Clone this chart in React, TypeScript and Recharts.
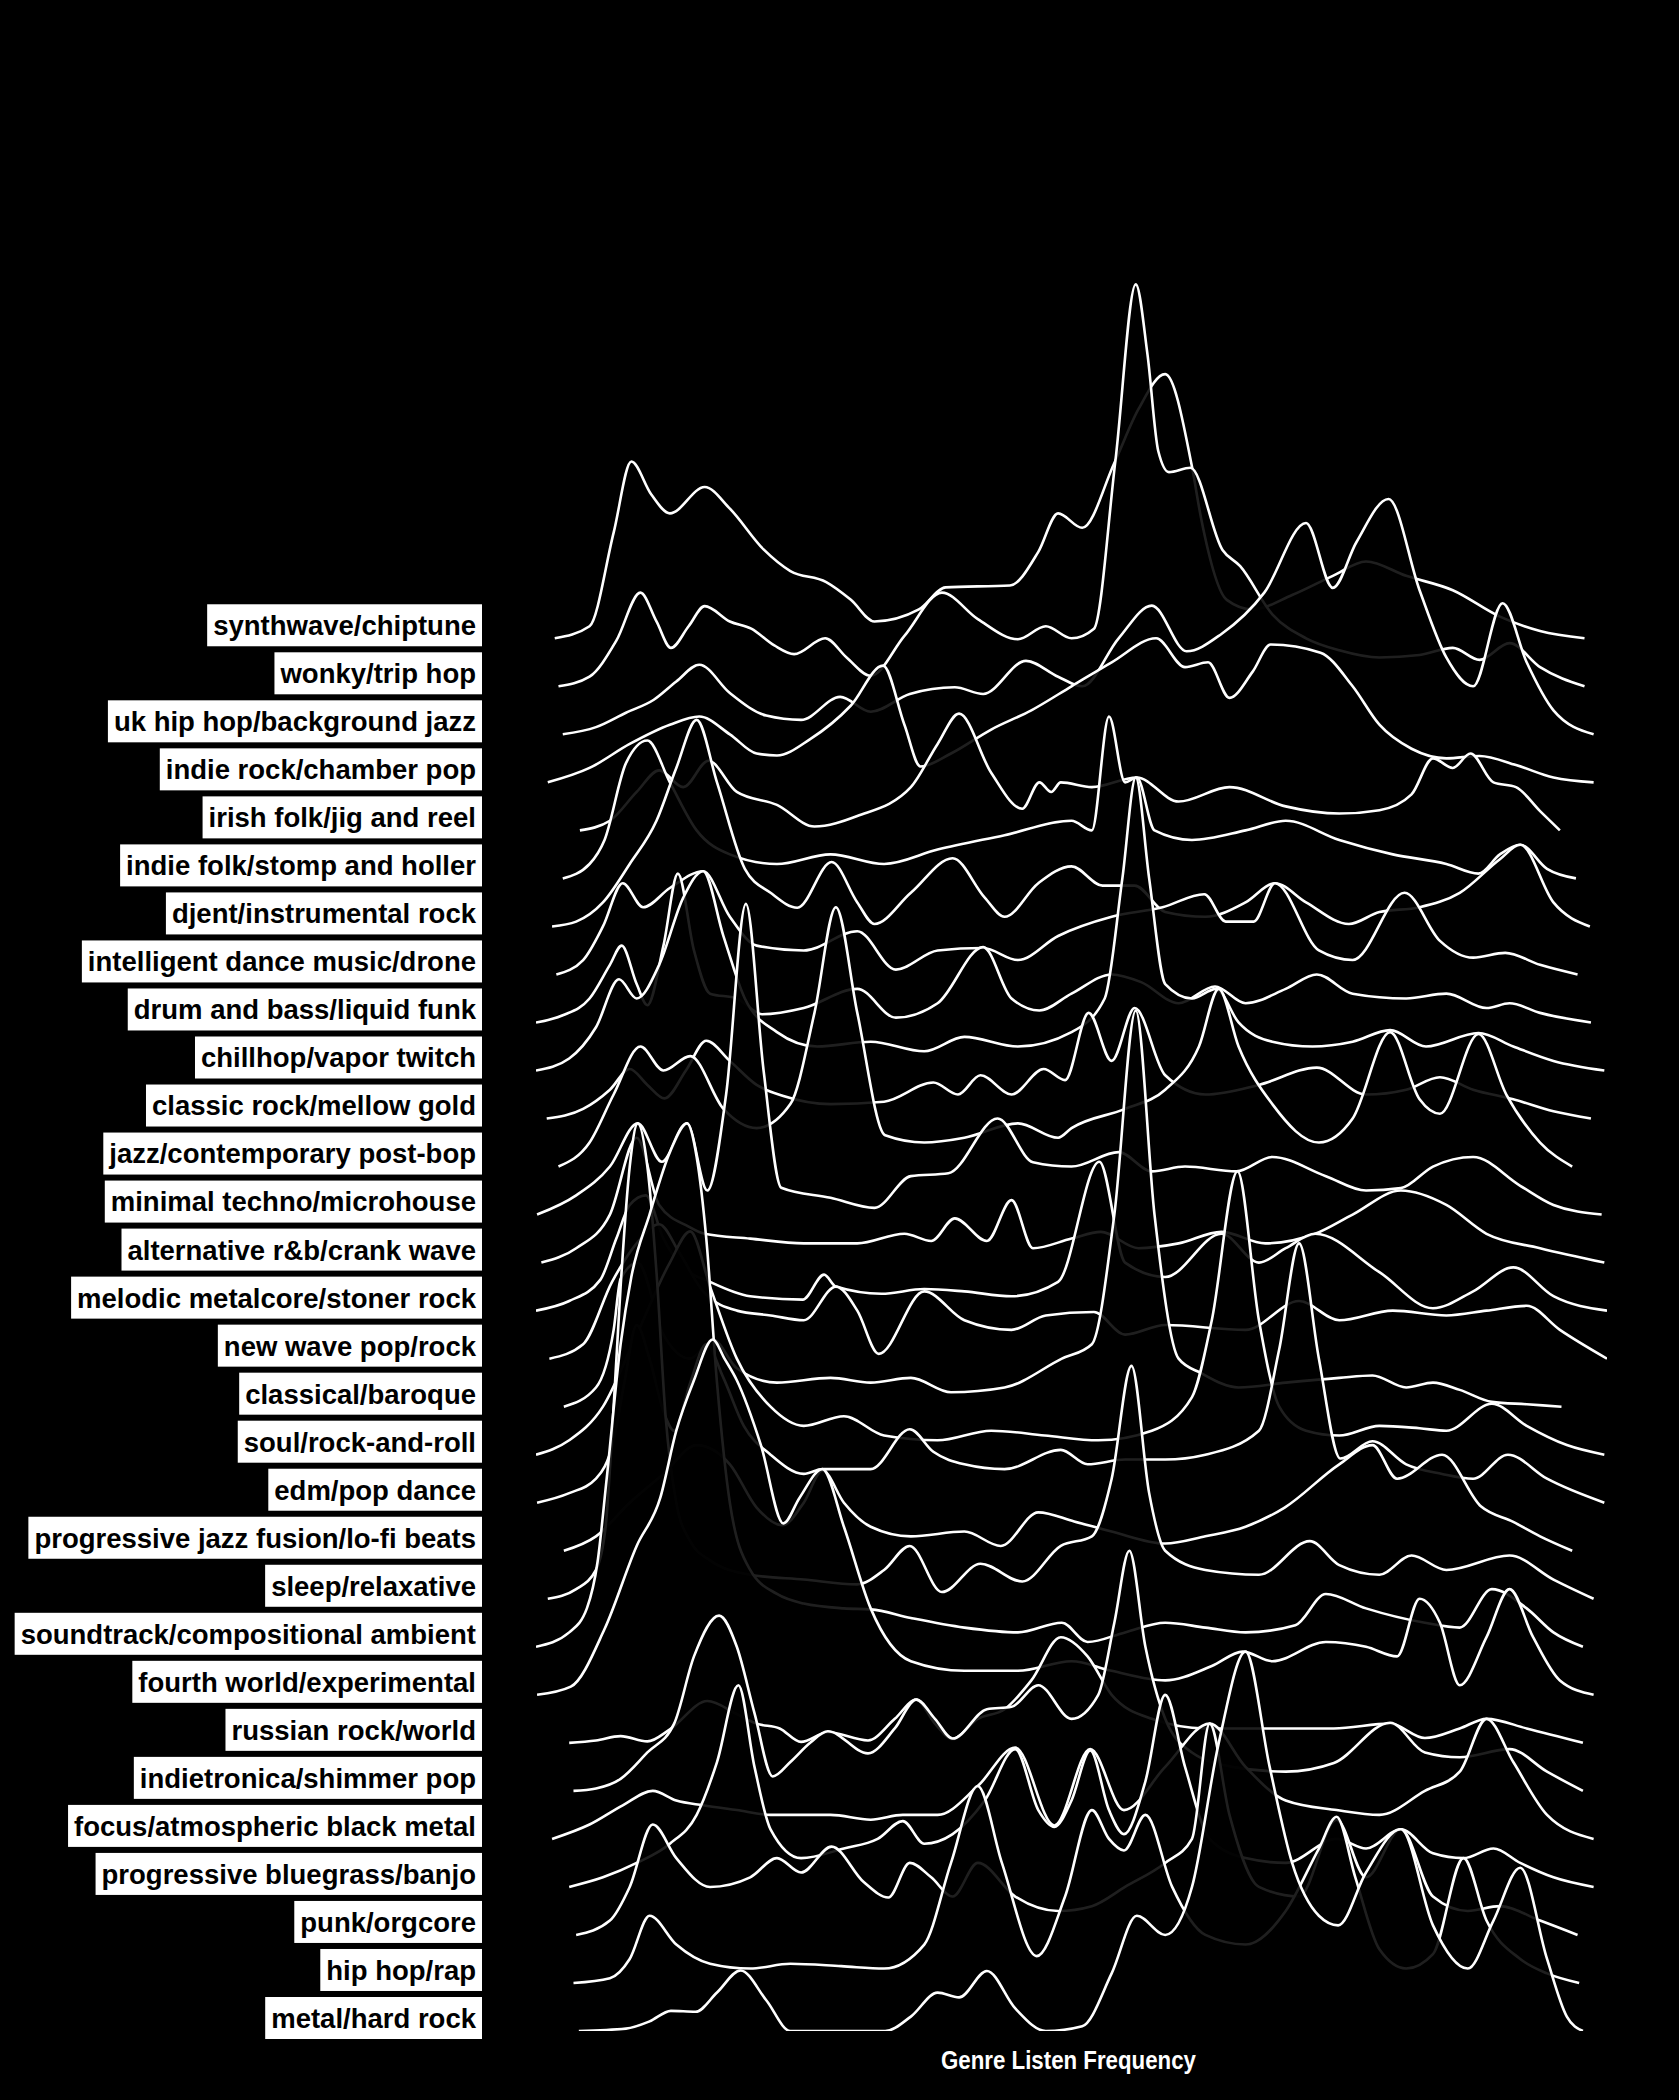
import { ComposedChart, Area, XAxis, YAxis } from "recharts";

const GENRES = [
	"synthwave/chiptune",
	"wonky/trip hop",
	"uk hip hop/background jazz",
	"indie rock/chamber pop",
	"irish folk/jig and reel",
	"indie folk/stomp and holler",
	"djent/instrumental rock",
	"intelligent dance music/drone",
	"drum and bass/liquid funk",
	"chillhop/vapor twitch",
	"classic rock/mellow gold",
	"jazz/contemporary post-bop",
	"minimal techno/microhouse",
	"alternative r&b/crank wave",
	"melodic metalcore/stoner rock",
	"new wave pop/rock",
	"classical/baroque",
	"soul/rock-and-roll",
	"edm/pop dance",
	"progressive jazz fusion/lo-fi beats",
	"sleep/relaxative",
	"soundtrack/compositional ambient",
	"fourth world/experimental",
	"russian rock/world",
	"indietronica/shimmer pop",
	"focus/atmospheric black metal",
	"progressive bluegrass/banjo",
	"punk/orgcore",
	"hip hop/rap",
	"metal/hard rock",
];

const AXIS_TITLE = "Genre Listen Frequency";

// [listen frequency, density] pairs, one list per genre
const synthwave = [[1.75,0],[5,0.25],[7.25,2.2],[8.9,3.68],[10.75,3.0],[12.5,2.6],[15.75,3.15],[18.1,2.7],[21.25,1.85],[23.75,1.4],[27.1,1.17],[29.4,0.8],[31.6,0.35],[35.75,0.6],[38.25,1.06],[44.25,1.1],[46.9,1.8],[48.75,2.6],[51,2.3],[54,3.65],[56.25,4.77],[58.75,5.5],[61.25,3.57],[62.1,2.5],[64.5,0.8],[66.9,0.6],[70.6,0.9],[74.4,1.3],[77.5,1.6],[81.25,1.3],[85.6,1.0],[90,0.45],[93.75,0.15],[97.9,0]];
const wonky = [[2.1,0],[5,0.2],[7.5,0.95],[9.75,1.95],[11.25,1.35],[12.6,0.8],[14.25,1.25],[15.75,1.67],[18.1,1.35],[20.1,1.2],[22.25,0.85],[24.1,0.67],[27,1.0],[29,0.6],[31.25,0.22],[34.4,1.05],[37.9,1.95],[41.25,1.4],[45,0.98],[47.6,1.25],[50,1.0],[52.1,1.2],[54.1,4.7],[56,8.37],[57.1,6.9],[58.1,4.9],[59.1,4.46],[61.1,4.55],[64.1,2.84],[65.75,2.5],[68.75,1.5],[71.9,1.0],[75,0.75],[78.75,0.6],[82.5,0.65],[85.6,0.8],[88.1,0.55],[90.9,0.9],[93.75,0.4],[97.9,0]];
const ukHipHop = [[2.5,0],[5.6,0.15],[8.4,0.45],[11,0.72],[13.1,1.1],[15.25,1.45],[18.1,0.86],[21.5,0.39],[24.75,0.3],[28.4,0.78],[31.25,0.47],[34.9,0.84],[39.1,0.98],[41.75,0.84],[45.75,1.53],[48.75,1.2],[51,1.0],[54.4,2.0],[57.5,2.68],[60.75,1.73],[64,2.09],[68,2.95],[71.9,4.4],[74.4,3.05],[76.6,4.0],[79.6,4.9],[82.5,3.0],[85,1.6],[87.5,1.0],[90.25,2.73],[92.5,1.5],[95,0.5],[98.75,0]];
const indieRock = [[1.1,0],[5,0.3],[8.75,0.8],[12.5,1.2],[15.25,1.37],[18.1,1.0],[20.6,0.6],[22.5,0.56],[25.6,0.9],[29.4,1.6],[32.4,2.43],[34.4,1.2],[35.9,0.33],[38.75,0.6],[42.5,1.1],[46.25,1.5],[50,2.0],[53.75,2.5],[57.9,3.0],[60.6,2.4],[62.75,2.5],[64.75,1.76],[66.9,2.3],[68.6,2.87],[73.25,2.7],[76.25,2.0],[78.75,1.2],[81.75,0.7],[85,0.5],[88.1,0.55],[91.5,0.36],[95,0.1],[98.75,0]];
const irishFolk = [[4.1,0],[6.9,0.2],[9.4,0.8],[11.5,1.25],[13.75,0.9],[16.1,1.45],[18.75,0.8],[22.5,0.53],[26,0.08],[30,0.3],[35,0.9],[37.5,1.8],[39.5,2.43],[42.5,1.2],[45.4,0.45],[47,1.0],[48.1,0.8],[49,1.0],[51.9,0.9],[56.1,1.1],[60,0.6],[64.75,0.9],[70,0.5],[75,0.35],[78.75,0.42],[81.75,0.75],[83.75,1.5],[85.6,1.3],[87.25,1.6],[89.4,1.0],[91.5,0.9],[93.75,0.4],[95.6,0]];
const indieFolk = [[2.5,0],[5,0.3],[6.4,0.8],[8.4,2.4],[10.4,2.87],[12.5,2.0],[15,1.0],[18.1,0.5],[22.5,0.3],[27.5,0.5],[32.5,0.3],[37.5,0.6],[43.75,0.9],[50,1.2],[51.9,1.0],[53.5,3.37],[55,2.0],[56.1,2.1],[57.75,1.0],[61.25,0.8],[66.25,1.0],[70,1.2],[75,0.8],[80,0.5],[85,0.3],[88,0.1],[90,0.5],[91.9,0.7],[94.4,0.2],[97.1,0]];
const djent = [[1.5,0],[3.75,0.1],[6.25,0.5],[8.75,1.3],[11.25,2.2],[13.1,3.3],[15,4.3],[16.9,3.0],[19.5,1.2],[21.9,0.7],[24.4,0.39],[27.6,1.34],[30,0.5],[31.6,0.05],[35,0.7],[38.9,1.42],[41.9,0.6],[43.75,0.2],[46.9,0.9],[50,1.25],[52.9,0.85],[55.9,0.85],[58.75,0.3],[62.5,0.2],[66.25,0.5],[69,0.9],[71.9,0.5],[75.9,0.05],[78.75,0.3],[82.5,0.4],[86.25,0.7],[90,1.4],[91.9,1.7],[95,0.5],[98.4,0]];
const idm = [[1.9,0],[4.4,0.3],[6.25,1.0],[8.1,1.9],[10,1.4],[12.5,1.8],[15.6,2.15],[18.1,1.2],[20.6,0.6],[25,0.5],[30,0.9],[33.6,0.1],[37.5,0.5],[41.75,0.55],[45,0.3],[48.75,0.8],[53.75,1.2],[58.5,1.4],[62.4,1.67],[64.4,1.1],[67,1.1],[69,1.9],[73.1,0.5],[76.25,0.3],[81.1,1.7],[84.4,0.7],[87.5,0.35],[90.5,0.45],[93.75,0.2],[97.25,0]];
const drumBass = [[0,0],[2.5,0.15],[5,0.5],[6.9,1.2],[8,1.6],[9.4,0.8],[10.4,0.36],[11.9,1.6],[13.25,3.1],[14.75,1.5],[16.25,0.6],[18.75,0.5],[21.1,0.17],[25,0.3],[30,0.7],[33.6,0.1],[37.5,0.4],[41.75,1.57],[44.4,0.5],[47,0.25],[50,0.6],[53.75,1.0],[56.5,0.84],[60,0.4],[63.4,0.75],[66.25,0.4],[70,0.7],[72.9,1.0],[76.25,0.6],[81.25,0.5],[85,0.6],[88.75,0.3],[90.9,0.4],[93.75,0.2],[98.5,0]];
const chillhop = [[0,0],[3.1,0.25],[5.6,0.9],[7.75,1.9],[9.4,1.5],[11.5,2.2],[13.75,3.6],[15.6,4.15],[17.5,2.8],[19.5,1.5],[22.5,0.8],[26.25,0.5],[31.25,0.6],[36.25,0.4],[40,0.7],[45,0.5],[50,0.8],[53.1,1.5],[54.75,4.0],[56,6.1],[57.25,4.0],[58.75,1.8],[61.25,1.5],[63.5,1.7],[65.6,1.0],[68.75,0.6],[72.5,0.5],[76.25,0.6],[79.75,0.84],[83.1,0.5],[88,0.78],[91.25,0.5],[95,0.2],[99.75,0]];
const classicRock = [[1,0],[4.4,0.2],[6.9,0.6],[8.75,1.03],[10.4,0.7],[12,0.42],[14,1.0],[15.9,1.62],[18.1,1.2],[20.6,0.7],[23.1,0.47],[27.5,0.3],[32.5,0.35],[37.1,0.75],[39.4,0.5],[41.5,0.9],[44.4,0.5],[47.4,1.03],[49.4,0.8],[51.6,2.2],[53.75,1.2],[55.9,2.3],[58.75,0.9],[62.5,0.5],[67.5,0.7],[72.9,1.06],[77.5,0.5],[81.25,0.6],[84.4,0.86],[87.5,0.6],[91.25,0.4],[95,0.15],[98.5,0]];
const jazz = [[2.1,0],[5,0.5],[7.25,1.5],[9.75,2.5],[11.9,2.0],[14.4,2.3],[17.5,1.2],[20.6,0.8],[23.75,1.3],[26,3.2],[28,5.4],[30,3.2],[32.6,0.65],[36.25,0.5],[40,0.6],[45,0.9],[48.75,0.6],[50,0.8],[55,1.2],[58.75,1.6],[61.9,2.5],[63.75,3.7],[65.6,2.5],[68.75,1.3],[73.1,0.5],[76.25,1.0],[79.75,2.8],[82.5,1.4],[84.4,1.1],[88,2.76],[90.6,1.5],[93.75,0.5],[96.75,0]];
const minimalTechno = [[0.1,0],[3.75,0.4],[6.9,1.0],[9.5,1.9],[11.75,1.1],[14.1,1.9],[16,0.5],[17.75,2.5],[19.6,6.47],[21.25,3.0],[22.9,0.56],[27.5,0.35],[31.6,0.14],[35,0.8],[38.5,0.86],[43.1,2.0],[46.4,1.09],[50,1.0],[54.4,1.3],[57.5,0.9],[60.6,1.0],[65.4,0.9],[68.75,1.2],[73.75,0.8],[77.5,0.5],[80.75,0.55],[83.75,1.0],[87.5,1.2],[91.9,0.6],[95,0.2],[99.5,0]];
const altRnb = [[0.5,0],[3.75,0.3],[6.9,1.0],[9.4,2.6],[11.5,1.2],[14.25,0.75],[15.75,0.6],[20,0.5],[25,0.4],[30,0.4],[34.4,0.6],[36.9,0.45],[39.1,0.92],[42.1,0.45],[44.4,1.3],[46.4,0.3],[50,0.5],[52.75,0.64],[56.25,0.3],[60,0.4],[64,0.64],[68.1,0.4],[72.75,0.6],[76.25,1.0],[80.75,1.5],[85,1.2],[88.75,0.6],[93.75,0.3],[99.75,0]];
const metalcore = [[0,0],[3.1,0.2],[6,0.64],[7.5,1.5],[8.75,2.2],[10.25,2.4],[11.9,1.5],[13.75,0.9],[16.25,0.6],[20,0.3],[24.9,0.23],[26.9,0.75],[28,0.5],[32.25,0.35],[36.25,0.45],[40,0.4],[44.4,0.3],[48.75,0.6],[52.6,3.1],[55,1.0],[58.75,0.7],[64,1.6],[67.5,1.0],[70,1.3],[72.75,1.6],[78.75,0.8],[83.75,0.05],[87.5,0.4],[91.25,0.9],[95,0.3],[100,0]];
const newWave = [[1.25,0],[4.4,0.3],[7.1,1.6],[9.4,2.4],[11.5,2.8],[13.4,2.2],[15.6,1.4],[18.75,1.0],[21.9,0.9],[25,0.8],[28,1.5],[30,1.0],[32,0.1],[36.25,1.4],[40,0.8],[44.4,0.6],[47.6,0.9],[52.1,0.97],[55,0.5],[58.75,0.7],[66.25,0.6],[71.25,1.2],[75,0.8],[80,1.0],[85,0.9],[88.75,1.0],[92.5,1.1],[95.6,0.6],[100,0]];
const classical = [[2.6,0],[5.6,0.4],[7.25,1.6],[7.9,2.66],[9.5,3.0],[11.9,1.5],[14.4,1.0],[16.5,1.4],[18.75,0.8],[22.5,0.5],[27.5,0.6],[31.25,0.5],[35,0.6],[38.75,0.3],[43.75,0.4],[49.1,1.0],[51.9,1.3],[54,4.0],[56,8.25],[57.75,4.0],[60,1.0],[62.1,0.7],[65.6,0.4],[70,0.5],[75,0.6],[78.1,0.65],[81.25,0.4],[83.75,0.5],[86.25,0.35],[89.25,0.1],[92.5,0.05],[95.75,0]];
const soul = [[0,0],[3.1,0.3],[6.25,1.0],[9.4,2.5],[12.5,4.0],[14.4,4.65],[16.25,3.5],[18.75,2.0],[21.9,1.0],[25,0.6],[28.75,0.8],[32.5,0.4],[37.5,0.3],[42.5,0.5],[47.5,0.4],[52.5,0.3],[57.5,0.5],[61.25,1.2],[63.1,2.8],[65.5,5.9],[67.5,2.8],[69.4,1.0],[71.9,0.5],[75,0.4],[78.75,0.6],[82.5,0.55],[85,0.5],[89.25,1.06],[92.5,0.6],[96.25,0.2],[99.75,0]];
const edm = [[0.1,0],[3.1,0.2],[5.6,0.5],[7.25,1.3],[8.25,2.5],[9.4,3.7],[10.6,3.0],[11.9,1.9],[12.9,1.5],[14.4,2.5],[15.9,3.3],[17.5,2.6],[19.4,1.6],[21.9,1.0],[25,0.6],[26.75,0.7],[31.25,0.7],[34.9,1.53],[37.1,1.06],[40,0.8],[43.75,0.7],[49,1.1],[51.5,0.8],[55,0.9],[58.75,0.9],[62.5,1.0],[67.5,1.5],[69.4,3.2],[71.25,5.4],[73.1,3.0],[75.1,0.92],[78.1,1.28],[81.25,0.8],[84.6,0.6],[87.5,0.5],[90.75,1.0],[94.4,0.5],[99.75,0]];
const progJazz = [[2.6,0],[5.6,0.3],[8.75,1.0],[11.9,1.6],[15,2.2],[18.1,1.8],[20.6,0.9],[23,0.53],[25,1.0],[26.75,1.67],[28.75,1.0],[31.25,0.5],[35,0.3],[40,0.4],[43.4,0.1],[46.9,0.8],[50.25,0.61],[53.75,0.4],[58.75,0.15],[62.5,0.3],[66.25,0.5],[69.9,0.9],[75,1.8],[78.1,2.2],[80.4,1.5],[84.6,2.0],[88.25,0.92],[91.25,0.6],[93.75,0.3],[96.75,0]];
const sleep = [[1.1,0],[3.75,0.2],[5.6,0.6],[6.5,1.5],[7.25,4.0],[7.9,6.5],[8.75,9.0],[9.5,9.9],[10.4,9.0],[11.25,6.8],[12.1,3.8],[13.1,2.0],[14.4,1.2],[16.25,0.8],[20,0.5],[25,0.4],[30,0.3],[32.5,0.6],[34.9,1.1],[37.9,0.14],[41.5,0.73],[45.4,0.36],[49,1.1],[51.9,1.3],[53.75,2.5],[55.6,4.85],[57.25,2.2],[58.75,1.0],[62.5,0.6],[67.5,0.5],[72.25,1.2],[75,0.7],[78.75,0.5],[81.75,0.9],[85,0.6],[90.9,0.9],[95,0.4],[98.75,0]];
const soundtrack = [[0,0],[3.1,0.3],[4.75,0.8],[5.75,1.77],[6.6,3.5],[7.9,6.3],[8.9,7.7],[10.6,9.0],[12.5,10.3],[14.1,10.9],[15,10.2],[15.9,8.5],[16.9,5.5],[18.1,3.0],[20,1.6],[22.5,1.1],[25,0.9],[28.75,0.8],[31.25,0.78],[35,0.6],[40,0.4],[45,0.3],[49.1,0.5],[51.5,0.1],[55,0.3],[58.75,0.5],[62.5,0.4],[66.25,0.3],[70.9,0.45],[73.75,1.1],[77.5,0.8],[83,0.5],[86.25,0.4],[89.25,1.2],[92.5,0.8],[95,0.3],[97.75,0]];
const fourthWorld = [[0.1,0],[3.25,0.17],[6.4,1.37],[9.4,3.1],[11.6,4.1],[13.1,5.5],[14.75,6.55],[16.5,7.4],[17.6,7.0],[18.75,6.55],[21,5.2],[23.1,3.57],[24.6,4.1],[26.75,4.7],[28.75,3.5],[31.25,1.8],[35,0.7],[40,0.5],[45,0.5],[50,0.7],[53.75,0.5],[58.75,0.3],[63.1,0.6],[66,0.9],[68.75,0.7],[73.75,1.1],[77.5,1.0],[80.4,0.8],[82.5,2.0],[84.4,1.5],[86.25,0.2],[88.75,1.2],[90.9,2.2],[93.1,1.2],[95.6,0.3],[98.75,0]];
const russianRock = [[3.1,0],[5.6,0.05],[7.9,0.14],[10.4,0.03],[12.5,0.28],[16,0.87],[18.75,0.6],[20.6,0.4],[22.75,0.3],[24.75,0.02],[27.25,0.22],[31,0.05],[33.5,0.5],[35.5,0.9],[37.25,0.4],[38.9,0.08],[41.25,0.5],[43.75,0.7],[46.25,1.3],[49,2.2],[51.5,1.8],[53.75,1.0],[57.5,0.5],[62.5,0.3],[68.75,0.3],[74.5,0.3],[79.75,0.4],[83,0.1],[86.25,0.3],[88.75,0.5],[92.5,0.3],[97.75,0]];
const indietronica = [[3.5,0],[5.6,0.05],[7.9,0.25],[10.4,0.8],[12.9,1.4],[14.75,2.8],[17.1,3.65],[18.75,3.0],[20.4,1.62],[22.1,0.3],[23.75,0.6],[25.6,1.0],[27.25,1.24],[31,0.78],[33.5,1.3],[35.5,1.9],[37.25,1.5],[38.9,1.09],[42.1,1.7],[44.4,1.75],[46.9,2.2],[50,1.5],[52.5,2.0],[54,3.5],[55.4,5.0],[56.9,3.0],[58.75,1.5],[61.25,0.8],[65,0.5],[70,0.4],[74.5,0.58],[79.75,1.42],[83,0.8],[86.25,0.7],[90.9,0.87],[94.4,0.4],[97.75,0]];
const blackMetal = [[1.5,0],[5,0.3],[8.1,0.7],[10.9,1.0],[13.1,0.8],[15.6,0.7],[18.75,0.6],[21.9,0.5],[25,0.5],[27.5,0.5],[31.25,0.4],[34.25,0.5],[37.5,0.5],[41.25,1.1],[44.75,1.9],[48.4,0.28],[51.75,1.87],[54.9,0.6],[58.75,1.5],[62.9,2.4],[66.25,1.5],[70,0.8],[74.75,0.6],[78.75,0.5],[83,1.0],[86.25,1.4],[88.75,2.5],[91.25,1.6],[94.4,0.5],[98.75,0]];
const bluegrass = [[3.1,0],[6.25,0.2],[9.4,0.5],[12.5,0.9],[15,1.5],[16.9,2.6],[18.9,4.2],[20.4,2.5],[21.9,1.2],[24.75,0.6],[28.75,0.8],[31.9,1.0],[34.25,1.37],[36.25,0.9],[38.9,1.1],[41.9,1.8],[44.75,2.87],[46.9,1.6],[48.4,1.25],[50,1.8],[51.75,2.84],[53.5,1.6],[54.9,1.1],[56.9,2.2],[58.75,4.0],[60.6,2.5],[62.9,1.0],[66.25,0.6],[70,0.5],[74.75,1.0],[77.5,0.8],[80.75,1.2],[83.75,0.7],[86.6,0.6],[89.4,0.8],[91.9,0.5],[95,0.2],[98.75,0]];
const punk = [[3.75,0],[6.9,0.3],[8.75,1.0],[10.9,2.3],[13.1,1.6],[16.25,1.0],[20,1.2],[22.5,1.6],[24.75,1.3],[27.6,1.84],[30.6,1.1],[32.9,0.78],[34.9,1.5],[36.9,1.2],[38.9,0.8],[41.25,1.5],[44.75,0.8],[48.75,0.5],[51.9,0.6],[55,1.0],[58.75,1.5],[61.25,2.0],[62.9,4.4],[64.75,2.5],[67.5,1.0],[71.25,0.8],[74.75,2.4],[77.5,1.2],[80.75,2.2],[83.75,0.8],[87,0.5],[90,0.6],[93.75,0.3],[97.25,0]];
const hipHop = [[3.5,0],[6.9,0.1],[8.75,0.5],[10.6,1.4],[13.1,0.8],[16.25,0.4],[20,0.3],[23.75,0.4],[28.5,0.35],[32.5,0.3],[36.25,0.8],[38.75,2.5],[41.25,4.1],[43.5,2.5],[46.75,0.56],[49.4,1.8],[51.9,3.6],[53.5,3.0],[54.9,2.76],[56.9,3.5],[59.4,2.0],[62.5,1.0],[66.25,0.8],[70,1.5],[73.1,2.8],[74.75,3.46],[76.5,2.2],[78.75,0.7],[81.25,0.3],[83.75,0.6],[86.6,2.6],[88.75,1.3],[91.9,0.5],[94.4,0.2],[97.4,0]];
const metal = [[4,0],[8.4,0.05],[10.6,0.2],[12.6,0.42],[14.9,0.4],[16.9,0.8],[19.1,1.26],[21.5,0.64],[23.75,0],[32.6,0],[35,0.3],[37.5,0.8],[39.5,0.7],[42.1,1.25],[44.75,0.47],[47.6,0],[51,0.1],[53.75,1.2],[56.1,2.4],[58.75,2.0],[61.25,3.0],[63.75,6.0],[66.25,7.9],[68.5,5.5],[70.6,3.5],[73.1,2.4],[74.9,2.2],[77.5,3.3],[80.75,4.2],[83.75,2.2],[87,1.3],[89.4,2.3],[91.9,3.4],[94.4,1.5],[96.25,0.3],[97.75,0]];

const RIDGES = [
	synthwave, wonky, ukHipHop, indieRock, irishFolk, indieFolk, djent, idm,
	drumBass, chillhop, classicRock, jazz, minimalTechno, altRnb, metalcore,
	newWave, classical, soul, edm, progJazz, sleep, soundtrack, fourthWorld,
	russianRock, indietronica, blackMetal, bluegrass, punk, hipHop, metal,
];

const ROWS = GENRES.length;
const BASES = GENRES.map((_, i) => ROWS - 1 - i);

// each ridge sits on its own baseline, drawn back (top) to front (bottom)
const SERIES = RIDGES.map((pts, i) => ({
	name: GENRES[i],
	base: BASES[i],
	data: pts.map(([x, h]) => ({ x, v: BASES[i] + h })),
}));

const LABEL_RIGHT = 482;
const LABEL_FONT = "bold 27.5px 'Liberation Sans', Arial, sans-serif";

let measureCtx: CanvasRenderingContext2D | null = null;
const textWidth = (s: string) => {
	if (!measureCtx) measureCtx = document.createElement("canvas").getContext("2d");
	if (!measureCtx) return s.length * 14;
	measureCtx.font = LABEL_FONT;
	return measureCtx.measureText(s).width;
};

const GenreTick = (props: any) => {
	const { y, payload } = props;
	const name = GENRES[ROWS - 1 - payload.value];
	if (!name) return null;
	const w = textWidth(name);
	const cy = y - 13;
	return (
		<g>
			<rect x={LABEL_RIGHT - w - 12} y={cy - 21} width={w + 12} height={42} fill="#fff" />
			<text
				x={LABEL_RIGHT - 6}
				y={cy}
				dy="0.36em"
				textAnchor="end"
				fill="#000"
				fontFamily="'Liberation Sans', Arial, sans-serif"
				fontWeight={700}
				fontSize={27.5}
			>
				{name}
			</text>
		</g>
	);
};

const AxisTitle = (props: any) => {
	const vb = props.viewBox || {};
	return (
		<text
			x={vb.x + vb.width / 2 - 3}
			y={vb.y + 38}
			textAnchor="middle"
			fill="#fff"
			fontFamily="'Liberation Sans', Arial, sans-serif"
			fontWeight={700}
			fontSize={25}
			textLength={255}
			lengthAdjust="spacingAndGlyphs"
		>
			{AXIS_TITLE}
		</text>
	);
};

export default function App() {
	return (
		<div style={{ position: "absolute", left: 0, top: 0, width: 1679, height: 2100, background: "#000" }}>
			<ComposedChart width={1679} height={2100} margin={{ top: 110, right: 72, bottom: 0, left: 0 }}>
				<XAxis
					dataKey="x"
					type="number"
					domain={[0, 100]}
					allowDataOverflow
					tick={false}
					tickLine={false}
					axisLine={false}
					height={69}
					label={AxisTitle}
				/>
				<YAxis
					type="number"
					domain={[0, 40]}
					allowDataOverflow
					ticks={BASES}
					interval={0}
					width={536}
					axisLine={false}
					tickLine={false}
					tick={<GenreTick />}
				/>
				{SERIES.map((s) => (
					<Area
						key={s.name}
						data={s.data}
						dataKey="v"
						baseValue={s.base}
						type="monotone"
						stroke="#fff"
						strokeWidth={2.6}
						fill="#000"
						fillOpacity={0.88}
						dot={false}
						activeDot={false}
						isAnimationActive={false}
					/>
				))}
			</ComposedChart>
		</div>
	);
}
